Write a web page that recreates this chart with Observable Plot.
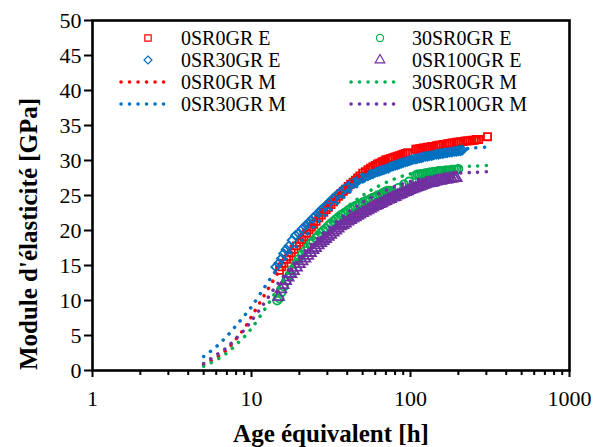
<!DOCTYPE html>
<html><head><meta charset="utf-8">
<script src="https://cdn.jsdelivr.net/npm/d3@7"></script>
<script src="https://cdn.jsdelivr.net/npm/@observablehq/plot@0.6"></script>
<style>body{margin:0;background:#fff}</style>
</head><body><div id="chart"></div>
<script>
// ---- axis ticks ----
const xTicks = [1, 10, 100, 1000];
const xMinorTicks = [2,3,4,5,6,7,8,9,20,30,40,50,60,70,80,90,200,300,400,500,600,700,800,900];
const yTicks = [0,5,10,15,20,25,30,35,40,45,50];

// ---- series names / colours ----
const seriesNames = ["0SR0GR E","30SR0GR E","0SR30GR E","0SR100GR E","0SR0GR M","30SR0GR M","0SR30GR M","0SR100GR M"];
const seriesColors = ["#FF0000","#00B050","#0070C0","#7030A0","#FF0000","#00B050","#0070C0","#7030A0"];
const seriesSymbols = ["square","circle","diamond2","triangle"];

// ---- experimental data (E) ----
const tRedE = [15,15.5,16,16.6,17.2,17.8,18.5,19.2,20,20.7,21.4,22.2,23,23.8,24.6,25.5,26.5,27.5,28.5,29.5,30.5,31.6,32.8,34,35.2,36.5,37.8,39,40.5,42,43.5,45,46.5,48,50,52,54,56,58,60,62,64,66,68,70,72.5,75,77.5,80,82.5,85,87.5,90,93,96,108,111,114,117,120,124,128,132,136,140,145,150,155,160,165,170,176,182,188,194,200,207,214,221,228,236,244,252,260,268,305];
const vRedE = [14.3,14.8,15.3,15.9,16.3,16.8,17.3,17.8,18.3,18.7,19.1,19.6,20.1,20.5,20.9,21.3,21.8,22.2,22.6,23.0,23.3,23.7,24.1,24.5,24.9,25.3,25.6,25.9,26.3,26.6,26.9,27.2,27.5,27.8,28.2,28.4,28.7,28.9,29.1,29.3,29.5,29.6,29.8,29.9,30.1,30.2,30.3,30.4,30.5,30.6,30.7,30.8,30.9,31.0,31.1,31.6,31.6,31.7,31.7,31.8,31.8,31.9,31.9,32.0,32.0,32.1,32.2,32.2,32.3,32.3,32.4,32.4,32.5,32.5,32.6,32.6,32.7,32.7,32.8,32.8,32.8,32.9,32.9,33.0,33.0,33.4];

const tBlueE = [14.2,14.8,15.4,15.9,16.5,17.2,18,18.9,19.8,20.8,21.7,22.6,23.5,24.4,25.3,26.3,27.3,28.3,29.3,30.4,31.5,32.7,33.9,35.1,36.4,37.7,39,40.5,42,43.5,45,46.5,48,50,52,54,56,58,60,62,64,66,68,70,72.5,75,77.5,80,82.5,85,87.5,90,93,96,99,102,105,108,111,114,117,120,124,128,132,136,140,145,150,155,160,165,170,176,182,188,194,200,206,212];
const vBlueE = [14.8,15.3,16.0,16.7,17.3,17.8,18.6,19.3,19.6,20.2,20.6,21.0,21.4,21.8,22.1,22.5,22.9,23.2,23.5,23.9,24.2,24.6,24.9,25.2,25.5,25.8,26.0,26.3,26.5,26.7,26.9,27.1,27.3,27.5,27.7,27.8,28.0,28.1,28.3,28.4,28.5,28.6,28.7,28.8,28.9,29.1,29.2,29.3,29.4,29.5,29.6,29.7,29.8,29.9,30.0,30.1,30.2,30.2,30.3,30.4,30.4,30.5,30.6,30.6,30.7,30.7,30.8,30.9,30.9,31.0,31.0,31.1,31.1,31.2,31.2,31.3,31.3,31.4,31.4,31.5];

const tGreenE = [14.5,15,15.5,16,16.6,17.3,18,18.9,19.8,20.8,21.7,22.6,23.5,24.4,25.3,26.3,27.3,28.3,29.3,30.4,31.5,32.7,33.9,35.1,36.4,37.7,39,40.5,42,43.5,45,46.5,48,50,52,54,56,58,60,62,64,66,68,70,72,74,76,78,84,91,98,108,111,114,117,120,124,128,132,136,140,145,150,155,160,165,170,176,182,188,194,200];
const vGreenE = [10.0,10.3,11.2,12.0,12.8,13.6,14.4,15.2,15.9,16.6,17.1,17.6,18.1,18.5,18.9,19.3,19.7,20.0,20.3,20.7,21.0,21.3,21.6,21.9,22.2,22.4,22.6,22.9,23.1,23.3,23.5,23.6,23.8,24.0,24.2,24.3,24.5,24.7,24.8,25.0,25.1,25.3,25.4,25.6,25.7,25.7,25.6,25.4,26.1,26.6,27.0,27.9,28.0,28.0,28.1,28.1,28.2,28.2,28.3,28.3,28.4,28.4,28.5,28.5,28.5,28.6,28.6,28.6,28.7,28.7,28.7,28.8];

const tPurpleE = [14.8,15.3,15.8,16.4,17,17.7,18.4,19.2,20,20.8,21.7,22.6,23.5,24.4,25.3,26.3,27.3,28.3,29.3,30.4,31.5,32.7,33.9,35.1,36.4,37.7,39,40.5,42,43.5,45,46.5,48,50,52,54,56,58,60,62,64,66,68,70,72.5,75,77.5,80,82.5,85,87.5,90,93,96,99,102,105,108,111,114,117,120,124,128,132,136,140,145,150,155,160,165,170,176,182,188,194];
const vPurpleE = [10.5,11.6,12.2,12.8,13.3,13.8,14.2,14.7,15.2,15.6,16.0,16.4,16.8,17.2,17.5,17.9,18.2,18.5,18.8,19.1,19.4,19.7,20.0,20.3,20.6,20.8,21.0,21.3,21.5,21.7,21.9,22.1,22.3,22.5,22.7,22.9,23.1,23.3,23.5,23.6,23.8,23.9,24.1,24.2,24.4,24.5,24.7,24.8,25.0,25.1,25.2,25.4,25.5,25.6,25.8,25.9,26.0,26.1,26.2,26.3,26.4,26.5,26.6,26.7,26.8,26.8,26.9,27.0,27.1,27.1,27.2,27.3,27.3,27.4,27.4,27.5,27.5];

// ---- model data (M) ----
const tModel = [5,6,7,8,9,10,12,14,17,20,25,30,40,50,60,80,100,130,160,200,250,300];
const vRedM    = [0.8,1.8,3.0,4.5,6.0,7.7,10.7,13.2,16.2,18.4,21.4,23.5,26.4,28.1,29.2,30.6,31.4,32.2,32.6,32.9,33.2,33.4];
const vGreenM  = [0.6,1.5,2.5,3.7,4.8,6.0,8.6,11.0,14.0,16.3,19.0,20.9,23.4,25.0,26.1,27.4,28.1,28.6,28.9,29.1,29.2,29.3];
const vBlueM   = [2.0,3.4,4.9,6.4,7.8,9.1,11.8,14.0,16.4,18.2,20.7,22.5,25.2,26.9,28.0,29.4,30.2,30.9,31.3,31.6,31.8,31.9];
const vPurpleM = [1.0,2.2,3.3,4.6,5.8,7.1,9.6,11.8,14.3,16.2,18.5,20.2,22.5,24.0,25.0,26.3,27.0,27.6,28.0,28.2,28.3,28.4];

const expT = [tRedE, tGreenE, tBlueE, tPurpleE];
const expV = [vRedE, vGreenE, vBlueE, vPurpleE];
const modV = [vRedM, vGreenM, vBlueM, vPurpleM];

const expRows = expT.map((ts, i) => ts.map((t, j) => ({t, v: expV[i][j], s: seriesNames[i]})));
const modRows = modV.map((vs, i) => vs.map((v, j) => ({t: tModel[j], v, s: seriesNames[i + 4]})));

const FONT = "'Liberation Serif', 'Times New Roman', serif";
const marks = [];
expRows.forEach((rows, i) => {
  marks.push(Plot.dot(rows, {x: "t", y: "v", symbol: () => seriesSymbols[i], r: 4, fill: "none", stroke: seriesColors[i], strokeWidth: 1.8}));
});
modRows.forEach((rows, i) => {
  marks.push(Plot.line(rows, {x: "t", y: "v", curve: "catmull-rom", stroke: seriesColors[i + 4], strokeWidth: 3.5, strokeLinecap: "round", strokeDasharray: "0.1 8.4"}));
});

const chart = Plot.plot({
  width: 602, height: 447,
  marginLeft: 92, marginRight: 33, marginTop: 20, marginBottom: 77,
  style: {fontFamily: FONT, fontSize: "22px", color: "#000", background: "#fff"},
  x: {type: "log", domain: [1, 1000]},
  y: {domain: [0, 50]},
  symbol: {type: "identity"},
  marks: [
    ...marks,
    Plot.frame({stroke: "#000", strokeWidth: 2.6}),
    Plot.axisX({ticks: xMinorTicks, tickSize: 5, tickFormat: () => "", strokeWidth: 2, label: null}),
    Plot.axisX({ticks: xTicks, tickSize: 7, tickPadding: 13, tickFormat: d => String(d), strokeWidth: 2, label: null, fontSize: 22, fontFamily: FONT}),
    Plot.axisY({ticks: yTicks, tickSize: 8, tickPadding: 3, tickFormat: d => String(d), strokeWidth: 2, label: null, fontSize: 22, fontFamily: FONT})
  ]
});
document.getElementById("chart").appendChild(chart);

const svg = d3.select(chart);
// axis titles
svg.append("text").attr("x", 331).attr("y", 442).attr("text-anchor", "middle")
  .attr("font-family", FONT).attr("font-weight", "bold").attr("font-size", 25).attr("fill", "#000")
  .text("Age équivalent [h]");
svg.append("text").attr("transform", "translate(37,234) rotate(-90)").attr("text-anchor", "middle")
  .attr("font-family", FONT).attr("font-weight", "bold").attr("font-size", 25).attr("fill", "#000")
  .text("Module d'élasticité [GPa]");

// legend
const legendOrder = [0, 2, 4, 6, 1, 3, 5, 7];
const legendCols = [{sym: 148, line0: 121, line1: 171, text: 181}, {sym: 380, line0: 351, line1: 401, text: 412}];
const rowY = [38, 60, 82, 104];
const lg = svg.append("g");
const symMap = {square: d3.symbolSquare, circle: d3.symbolCircle, diamond2: d3.symbolDiamond2, triangle: d3.symbolTriangle};
legendOrder.forEach((si, k) => {
  const col = legendCols[Math.floor(k / 4)];
  const y = rowY[k % 4];
  const c = seriesColors[si];
  if (si < 4) {
    lg.append("path").attr("d", d3.symbol(symMap[seriesSymbols[si]], 40)())
      .attr("transform", `translate(${col.sym},${y})`).attr("fill", "none").attr("stroke", c).attr("stroke-width", 1.2);
  } else {
    lg.append("line").attr("x1", col.line0).attr("x2", col.line1).attr("y1", y).attr("y2", y)
      .attr("stroke", c).attr("stroke-width", 3.5).attr("stroke-linecap", "round").attr("stroke-dasharray", "0.1 8.4");
  }
  lg.append("text").attr("x", col.text).attr("y", y).attr("dy", "0.35em").attr("text-anchor", "start")
    .attr("font-family", FONT).attr("font-size", 20).attr("fill", "#000").text(seriesNames[si]);
});
</script>
</body></html>
